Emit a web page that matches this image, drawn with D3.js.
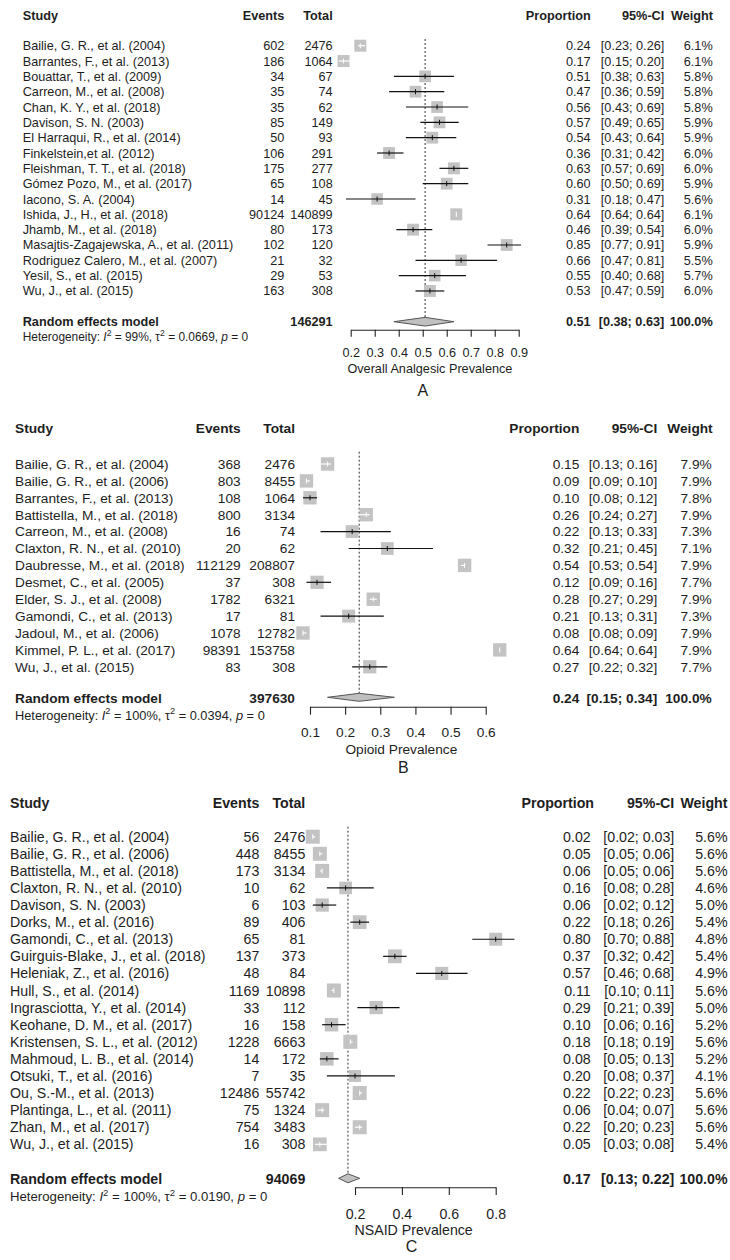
<!DOCTYPE html>
<html>
<head>
<meta charset="utf-8">
<script src="https://cdn.jsdelivr.net/npm/d3@7"></script>
<style>
  html, body { margin: 0; padding: 0; background: #fff; }
  svg { display: block; }
</style>
</head>
<body>
<script>
// ---------------- DATA: Panel A (Overall analgesic) ----------------
const studiesA = ["Bailie, G. R., et al. (2004)", "Barrantes, F., et al. (2013)", "Bouattar, T., et al. (2009)",
  "Carreon, M., et al. (2008)", "Chan, K. Y., et al. (2018)", "Davison, S. N. (2003)", "El Harraqui, R., et al. (2014)",
  "Finkelstein,et al. (2012)", "Fleishman, T. T., et al. (2018)", "Gómez Pozo, M., et al. (2017)", "Iacono, S. A. (2004)",
  "Ishida, J., H., et al. (2018)", "Jhamb, M., et al. (2018)", "Masajtis-Zagajewska, A., et al. (2011)",
  "Rodriguez Calero, M., et al. (2007)", "Yesil, S., et al. (2015)", "Wu, J., et al. (2015)"];
const eventsA = [602, 186, 34, 35, 35, 85, 50, 106, 175, 65, 14, 90124, 80, 102, 21, 29, 163];
const totalsA = [2476, 1064, 67, 74, 62, 149, 93, 291, 277, 108, 45, 140899, 173, 120, 32, 53, 308];
const propA = [0.24, 0.17, 0.51, 0.47, 0.56, 0.57, 0.54, 0.36, 0.63, 0.60, 0.31, 0.64, 0.46, 0.85, 0.66, 0.55, 0.53];
const loA = [0.23, 0.15, 0.38, 0.36, 0.43, 0.49, 0.43, 0.31, 0.57, 0.50, 0.18, 0.64, 0.39, 0.77, 0.47, 0.40, 0.47];
const hiA = [0.26, 0.20, 0.63, 0.59, 0.69, 0.65, 0.64, 0.42, 0.69, 0.69, 0.47, 0.64, 0.54, 0.91, 0.81, 0.68, 0.59];
const weightA = [6.1, 6.1, 5.8, 5.8, 5.8, 5.9, 5.9, 6.0, 6.0, 5.9, 5.6, 6.1, 6.0, 5.9, 5.5, 5.7, 6.0];
const summaryA = [146291, 0.51, 0.38, 0.63, 100.0];   // total, proportion, lower, upper, weight
const hetA = ["99%", "0.0669", "0"];                   // I^2, tau^2, p
const ticksA = [0.2, 0.3, 0.4, 0.5, 0.6, 0.7, 0.8, 0.9];
const titleA = "Overall Analgesic Prevalence";

// ---------------- DATA: Panel B (Opioid) ----------------
const studiesB = ["Bailie, G. R., et al. (2004)", "Bailie, G. R., et al. (2006)", "Barrantes, F., et al. (2013)",
  "Battistella, M., et al. (2018)", "Carreon, M., et al. (2008)", "Claxton, R. N., et al. (2010)",
  "Daubresse, M., et al. (2018)", "Desmet, C., et al. (2005)", "Elder, S. J., et al. (2008)",
  "Gamondi, C., et al. (2013)", "Jadoul, M., et al. (2006)", "Kimmel, P. L., et al. (2017)", "Wu, J., et al. (2015)"];
const eventsB = [368, 803, 108, 800, 16, 20, 112129, 37, 1782, 17, 1078, 98391, 83];
const totalsB = [2476, 8455, 1064, 3134, 74, 62, 208807, 308, 6321, 81, 12782, 153758, 308];
const propB = [0.15, 0.09, 0.10, 0.26, 0.22, 0.32, 0.54, 0.12, 0.28, 0.21, 0.08, 0.64, 0.27];
const loB = [0.13, 0.09, 0.08, 0.24, 0.13, 0.21, 0.53, 0.09, 0.27, 0.13, 0.08, 0.64, 0.22];
const hiB = [0.16, 0.10, 0.12, 0.27, 0.33, 0.45, 0.54, 0.16, 0.29, 0.31, 0.09, 0.64, 0.32];
const weightB = [7.9, 7.9, 7.8, 7.9, 7.3, 7.1, 7.9, 7.7, 7.9, 7.3, 7.9, 7.9, 7.7];
const summaryB = [397630, 0.24, 0.15, 0.34, 100.0];
const hetB = ["100%", "0.0394", "0"];
const ticksB = [0.1, 0.2, 0.3, 0.4, 0.5, 0.6];
const titleB = "Opioid Prevalence";

// ---------------- DATA: Panel C (NSAID) ----------------
const studiesC = ["Bailie, G. R., et al. (2004)", "Bailie, G. R., et al. (2006)", "Battistella, M., et al. (2018)",
  "Claxton, R. N., et al. (2010)", "Davison, S. N. (2003)", "Dorks, M., et al. (2016)", "Gamondi, C., et al. (2013)",
  "Guirguis-Blake, J., et al. (2018)", "Heleniak, Z., et al. (2016)", "Hull, S., et al. (2014)",
  "Ingrasciotta, Y., et al. (2014)", "Keohane, D. M., et al. (2017)", "Kristensen, S. L., et al. (2012)",
  "Mahmoud, L. B., et al. (2014)", "Otsuki, T., et al. (2016)", "Ou, S.-M., et al. (2013)",
  "Plantinga, L., et al. (2011)", "Zhan, M., et al. (2017)", "Wu, J., et al. (2015)"];
const eventsC = [56, 448, 173, 10, 6, 89, 65, 137, 48, 1169, 33, 16, 1228, 14, 7, 12486, 75, 754, 16];
const totalsC = [2476, 8455, 3134, 62, 103, 406, 81, 373, 84, 10898, 112, 158, 6663, 172, 35, 55742, 1324, 3483, 308];
const propC = [0.02, 0.05, 0.06, 0.16, 0.06, 0.22, 0.80, 0.37, 0.57, 0.11, 0.29, 0.10, 0.18, 0.08, 0.20, 0.22, 0.06, 0.22, 0.05];
const loC = [0.02, 0.05, 0.05, 0.08, 0.02, 0.18, 0.70, 0.32, 0.46, 0.10, 0.21, 0.06, 0.18, 0.05, 0.08, 0.22, 0.04, 0.20, 0.03];
const hiC = [0.03, 0.06, 0.06, 0.28, 0.12, 0.26, 0.88, 0.42, 0.68, 0.11, 0.39, 0.16, 0.19, 0.13, 0.37, 0.23, 0.07, 0.23, 0.08];
const weightC = [5.6, 5.6, 5.6, 4.6, 5.0, 5.4, 4.8, 5.4, 4.9, 5.6, 5.0, 5.2, 5.6, 5.2, 4.1, 5.6, 5.6, 5.6, 5.4];
const summaryC = [94069, 0.17, 0.13, 0.22, 100.0];
const hetC = ["100%", "0.0190", "0"];
const ticksC = [0.2, 0.4, 0.6, 0.8];
const titleC = "NSAID Prevalence";

const headers = ["Study", "Events", "Total", "Proportion", "95%-CI", "Weight"];
const panelLetters = ["A", "B", "C"];

// ---------------- DRAWING ----------------
const W = 730, H = 1260;
const TXT = "#1e1e1e";
const svg = d3.select("body").append("svg")
  .attr("width", W).attr("height", H)
  .style("font-family", "'Liberation Sans', Arial, Helvetica, sans-serif");
svg.append("rect").attr("width", W).attr("height", H).attr("fill", "#fff");

const f2 = d3.format(".2f"), f1 = d3.format(".1f");

function drawPanel(d, L) {
  const g = svg.append("g");
  const fs = L.fs;
  const base = c => c + 0.355 * fs;   // baseline for a centered line of text
  const x = d3.scaleLinear().domain([d.ticks[0], d.ticks[d.ticks.length - 1]]).range([L.x0, L.x1]);
  const yRow = i => L.row0 + i * L.step;
  const n = d.studies.length;

  function txt(xp, yc, s, anchor, bold, size) {
    return g.append("text").attr("x", xp).attr("y", yc + 0.355 * (size || fs))
      .attr("text-anchor", anchor).attr("font-size", size || fs)
      .attr("font-weight", bold ? "bold" : "normal").attr("fill", TXT).text(s);
  }

  // headers
  txt(L.studyX, L.headY, headers[0], "start", true);
  txt(L.evR, L.headY, headers[1], "end", true);
  txt(L.totR, L.headY, headers[2], "end", true);
  txt(L.propHR, L.headY, headers[3], "end", true);
  txt(L.ciR, L.headY, headers[4], "end", true);
  txt(L.wHR, L.headY, headers[5], "end", true);

  const idx = d3.range(n);
  const cols = [
    { x: L.studyX, a: "start", v: i => d.studies[i] },
    { x: L.evR, a: "end", v: i => d.events[i] },
    { x: L.totR, a: "end", v: i => d.totals[i] },
    { x: L.propR, a: "end", v: i => f2(d.prop[i]) },
    { x: L.ciR, a: "end", v: i => `[${f2(d.lo[i])}; ${f2(d.hi[i])}]` },
    { x: L.wR, a: "end", v: i => f1(d.weight[i]) + "%" }
  ];
  cols.forEach(c => {
    g.append("g").selectAll("text").data(idx).join("text")
      .attr("x", c.x).attr("y", i => base(yRow(i)))
      .attr("text-anchor", c.a).attr("font-size", fs).attr("fill", TXT)
      .text(c.v);
  });

  // summary row text
  const s = d.summary;
  txt(L.studyX, L.reY, "Random effects model", "start", true);
  txt(L.totR, L.reY, s[0], "end", true);
  txt(L.propR, L.reY, f2(s[1]), "end", true);
  txt(L.ciR, L.reY, `[${f2(s[2])}; ${f2(s[3])}]`, "end", true);
  txt(L.wR, L.reY, f1(s[4]) + "%", "end", true);

  // heterogeneity
  const hf = L.hetFs;
  const ht = g.append("text").attr("x", L.studyX).attr("y", L.hetY + 0.355 * hf)
    .attr("font-size", hf).attr("fill", TXT);
  ht.append("tspan").text("Heterogeneity: ");
  ht.append("tspan").attr("font-style", "italic").text("I");
  ht.append("tspan").attr("font-size", hf * 0.72).attr("dy", -hf * 0.42).text("2");
  ht.append("tspan").attr("dy", hf * 0.42).text(` = ${d.het[0]}, τ`);
  ht.append("tspan").attr("font-size", hf * 0.72).attr("dy", -hf * 0.42).text("2");
  ht.append("tspan").attr("dy", hf * 0.42).text(` = ${d.het[1]}, `);
  ht.append("tspan").attr("font-style", "italic").text("p");
  ht.append("tspan").text(` = ${d.het[2]}`);

  // reference dashed line at pooled estimate
  g.append("line")
    .attr("x1", x(s[1])).attr("x2", x(s[1]))
    .attr("y1", L.row0 - L.dashTop).attr("y2", L.diaY - L.dh / 2)
    .attr("stroke", "#333").attr("stroke-width", 1).attr("stroke-dasharray", "2,2");

  // boxes
  const maxW = d3.max(d.weight);
  const bs = i => L.box * Math.sqrt(d.weight[i] / maxW);
  g.append("g").selectAll("rect").data(idx).join("rect")
    .attr("x", i => x(d.prop[i]) - bs(i) / 2).attr("y", i => yRow(i) - bs(i) / 2)
    .attr("width", bs).attr("height", bs)
    .attr("fill", "#c3c3c3");

  // CI lines (white when fully inside the box)
  const inside = i => (x(d.hi[i]) - x(d.lo[i])) <= bs(i);
  g.append("g").selectAll("line").data(idx).join("line")
    .attr("x1", i => x(d.lo[i])).attr("x2", i => x(d.hi[i]))
    .attr("y1", yRow).attr("y2", yRow)
    .attr("stroke", i => inside(i) ? "#fff" : "#111").attr("stroke-width", 1.2);
  g.append("g").selectAll("line").data(idx).join("line")
    .attr("x1", i => x(d.prop[i])).attr("x2", i => x(d.prop[i]))
    .attr("y1", i => yRow(i) - 2.5).attr("y2", i => yRow(i) + 2.5)
    .attr("stroke", i => inside(i) ? "#fff" : "#111").attr("stroke-width", 1);

  // diamond
  const dy = L.diaY, hh = L.dh / 2;
  g.append("path")
    .attr("d", `M${x(s[2])},${dy}L${x(s[1])},${dy - hh}L${x(s[3])},${dy}L${x(s[1])},${dy + hh}Z`)
    .attr("fill", "#c0c0c0").attr("stroke", "#555").attr("stroke-width", 1);

  // axis
  const axis = d3.axisBottom(x).tickValues(d.ticks).tickFormat(d3.format(".1f"))
    .tickSize(L.tickLen).tickSizeOuter(0);
  const ag = g.append("g").attr("transform", `translate(0,${L.axisY})`).call(axis);
  ag.attr("font-family", null).attr("font-size", null);
  ag.select(".domain").attr("stroke", "#222").attr("stroke-width", 1.1);
  ag.selectAll(".tick line").attr("stroke", "#222").attr("stroke-width", 1.1);
  ag.selectAll(".tick text").attr("dy", null)
    .attr("y", L.tickLabY - L.axisY + 0.355 * fs)
    .attr("font-size", fs).attr("fill", TXT);

  // axis title and panel letter
  const xc = x((d3.min(d.lo) + d3.max(d.hi)) / 2);
  txt(xc, L.titleY, d.title, "middle", false);
  txt(xc + L.letterDx, L.letterY, d.letter, "middle", false, 16);
}

drawPanel(
  { studies: studiesA, events: eventsA, totals: totalsA, prop: propA, lo: loA, hi: hiA, weight: weightA,
    summary: summaryA, het: hetA, ticks: ticksA, title: titleA, letter: panelLetters[0] },
  { fs: 12.7, hetFs: 11.9, headY: 15, row0: 45.7, step: 15.33, reY: 321.7, diaY: 321.7, hetY: 336.7,
    studyX: 22.7, evR: 284.3, totR: 332.7, propR: 590.7, propHR: 590.7, ciR: 664.3, wR: 712.7, wHR: 713,
    x0: 350.7, x1: 518.7, axisY: 329.7, tickLen: 7, tickLabY: 352.7, titleY: 368, letterY: 390, letterDx: -7,
    box: 12, dh: 8.7, dashTop: 6.7 });

drawPanel(
  { studies: studiesB, events: eventsB, totals: totalsB, prop: propB, lo: loB, hi: hiB, weight: weightB,
    summary: summaryB, het: hetB, ticks: ticksB, title: titleB, letter: panelLetters[1] },
  { fs: 13.7, hetFs: 12.8, headY: 428.3, row0: 464, step: 16.9, reY: 697.7, diaY: 697.3, hetY: 715,
    studyX: 15, evR: 240.7, totR: 295, propR: 579.3, propHR: 579.3, ciR: 657.3, wR: 711.7, wHR: 712.7,
    x0: 310, x1: 485.7, axisY: 706.7, tickLen: 8, tickLabY: 731.7, titleY: 749, letterY: 767, letterDx: 2,
    box: 13.4, dh: 8, dashTop: 12.3 });

drawPanel(
  { studies: studiesC, events: eventsC, totals: totalsC, prop: propC, lo: loC, hi: hiC, weight: weightC,
    summary: summaryC, het: hetC, ticks: ticksC, title: titleC, letter: panelLetters[2] },
  { fs: 14.2, hetFs: 13.2, headY: 802.7, row0: 836.7, step: 17.09, reY: 1179.3, diaY: 1178.3, hetY: 1196.7,
    studyX: 10, evR: 259.3, totR: 305.3, propR: 590.7, propHR: 594, ciR: 674.3, wR: 727.5, wHR: 727.5,
    x0: 355, x1: 495.7, axisY: 1187.3, tickLen: 7.7, tickLabY: 1214.3, titleY: 1230, letterY: 1246.7, letterDx: -2,
    box: 14, dh: 9, dashTop: 10 });
</script>
</body>
</html>
